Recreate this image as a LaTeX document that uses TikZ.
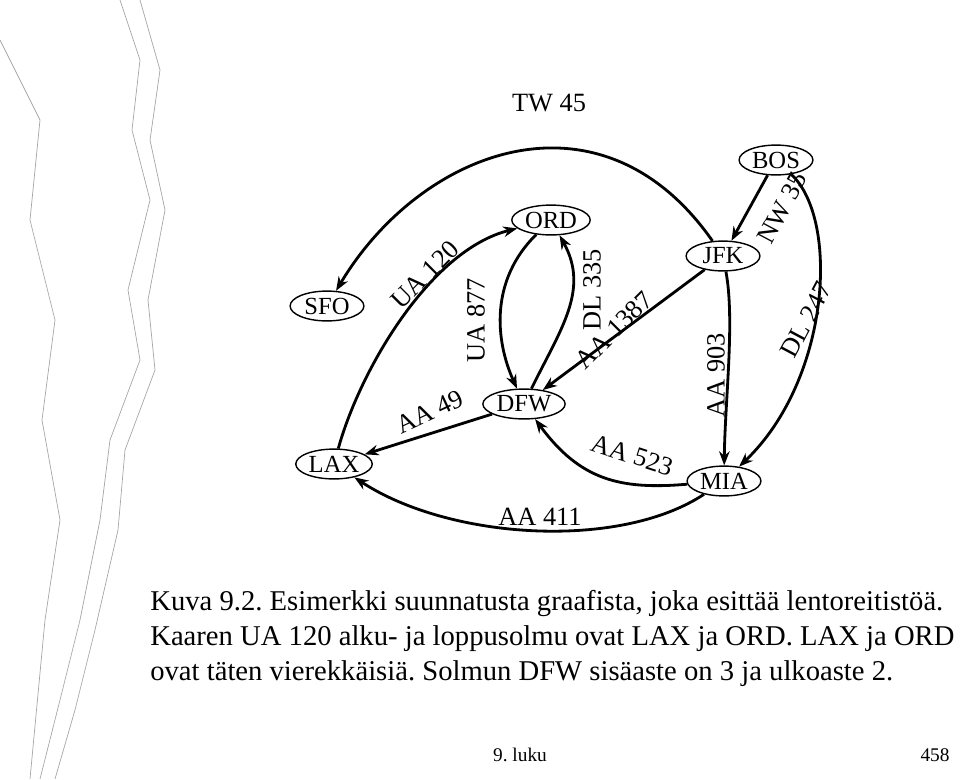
\documentclass[tikz,border=0pt]{standalone}
\usepackage{fontspec}
\setmainfont{Liberation Serif}
\usetikzlibrary{shapes.geometric,arrows.meta}
\frenchspacing
\tikzstyle{airport}=[ellipse, draw, thick, inner sep=1pt, minimum height=17pt, minimum width=42pt, font=\fontsize{14}{16}\selectfont]
\tikzstyle{flight}=[-{Stealth[length=8pt,width=6pt]}, line width=1.6pt]
\tikzstyle{lbl}=[font=\fontsize{15}{17}\selectfont]
\begin{document}
\begin{tikzpicture}[x=0.02cm,y=-0.02cm]
  \useasboundingbox (0,0) rectangle (960,779);
  %% scanned edge
  \draw[gray!70] (120,0) -- (140,60) -- (132,130) -- (150,200) -- (128,290) -- (140,360) -- (110,440) -- (100,520) -- (80,620) -- (60,700) -- (40,779);
  \draw[gray!70] (140,0) -- (160,70) -- (150,140) -- (165,210) -- (148,300) -- (155,370) -- (125,450) -- (118,530) -- (95,630) -- (75,710) -- (55,779);
  \draw[gray!70] (0,40) -- (40,120) -- (30,220) -- (55,320) -- (42,420) -- (60,520) -- (45,620) -- (30,779);
  %% airports
  \node[airport] (SFO) at (327,306) {SFO};
  \node[airport] (ORD) at (551,220) {ORD};
  \node[airport] (JFK) at (723,256) {JFK};
  \node[airport] (BOS) at (776,160) {BOS};
  \node[airport] (DFW) at (524,404) {DFW};
  \node[airport] (LAX) at (334,464) {LAX};
  \node[airport] (MIA) at (724,481) {MIA};
  %% flights
  \draw[flight] (JFK) .. controls (600,80) and (420,150) .. (SFO);
  \draw[flight] (BOS) -- (JFK);
  \draw[flight] (BOS) .. controls (840,220) and (830,380) .. (MIA);
  \draw[flight] (JFK) .. controls (735,320) and (725,400) .. (MIA);
  \draw[flight] (JFK) -- (DFW);
  \draw[flight] (DFW) .. controls (560,330) and (590,290) .. (ORD);
  \draw[flight] (ORD) .. controls (490,280) and (495,340) .. (DFW);
  \draw[flight] (LAX) .. controls (360,370) and (430,250) .. (ORD);
  \draw[flight] (DFW) -- (LAX);
  \draw[flight] (MIA) .. controls (620,490) and (580,480) .. (DFW);
  \draw[flight] (MIA) .. controls (620,550) and (450,540) .. (LAX);
  %% flight numbers
  \node[lbl] (tw45) at (549,103) {TW 45};
  \node[lbl, rotate=62] (nw35) at (782,208) {NW 35};
  \node[lbl, rotate=62] (dl247) at (806,320) {DL 247};
  \node[lbl, rotate=90] (aa903) at (716,375) {AA 903};
  \node[lbl, rotate=45] (aa1387) at (614,330) {AA 1387};
  \node[lbl, rotate=90] (dl335) at (592,290) {DL 335};
  \node[lbl, rotate=90] (ua877) at (476,320) {UA 877};
  \node[lbl, rotate=45] (ua120) at (425,275) {UA 120};
  \node[lbl, rotate=25] (aa49) at (430,412) {AA 49};
  \node[lbl, rotate=-18] (aa523) at (632,455) {AA 523};
  \node[lbl] (aa411) at (540,517) {AA 411};
  %% caption
  \node[anchor=north west, align=left, font=\fontsize{16.3}{20}\selectfont, inner sep=0pt] (cap) at (150,590)
    {Kuva 9.2. Esimerkki suunnatusta graafista, joka esittää lentoreitistöä.\\
     Kaaren UA 120 alku- ja loppusolmu ovat LAX ja ORD. LAX ja ORD\\
     ovat täten vierekkäisiä. Solmun DFW sisäaste on 3 ja ulkoaste 2.};
  \node[font=\fontsize{11}{13}\selectfont] (ch) at (520,755) {9. luku};
  \node[font=\fontsize{11}{13}\selectfont] (pg) at (935,755) {458};
\end{tikzpicture}
\end{document}
